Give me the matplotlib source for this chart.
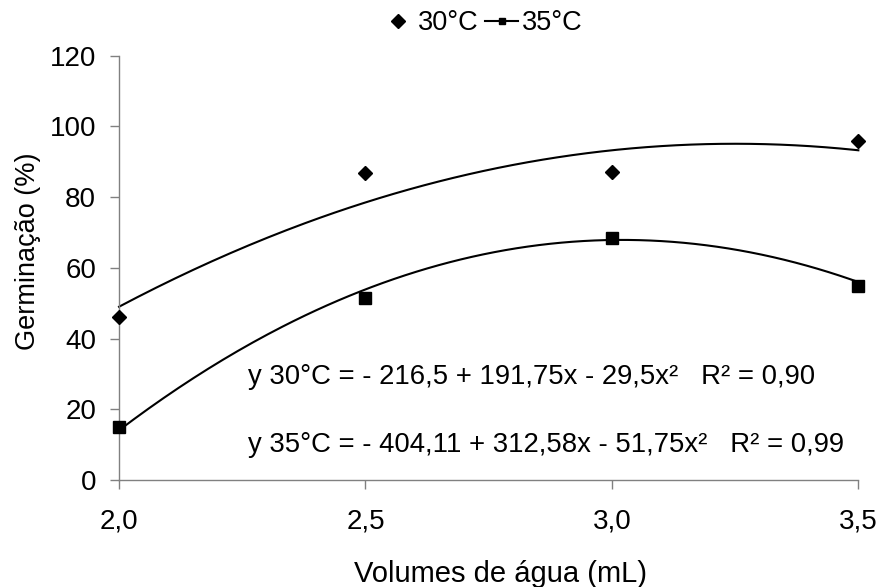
import numpy as np
import matplotlib.pyplot as plt
from matplotlib.lines import Line2D

plt.rcParams['font.family'] = ['Liberation Sans', 'DejaVu Sans']

# volumes de água (mL) e germinação observada (%)
volumes = [2.0, 2.5, 3.0, 3.5]
germ_30 = [46.2, 86.7, 87.1, 95.9]
germ_35 = [15.0, 51.6, 68.5, 55.0]

# coeficientes das regressões quadráticas (a + b*x + c*x^2)
coef_30 = [-216.5, 191.75, -29.5]
coef_35 = [-404.11, 312.58, -51.75]
eq_30 = "y 30°C = - 216,5 + 191,75x - 29,5x²   R² = 0,90"
eq_35 = "y 35°C = - 404,11 + 312,58x - 51,75x²   R² = 0,99"

xticks = [2.0, 2.5, 3.0, 3.5]
xtick_labels = ["2,0", "2,5", "3,0", "3,5"]
yticks = [0, 20, 40, 60, 80, 100, 120]

axis_grey = '#808080'

fig = plt.figure(figsize=(8.81, 5.87), dpi=100)
ax = fig.add_axes([0.1351, 0.1823, 0.8392, 0.7228])

xs = np.linspace(2.0, 3.5, 200)
for c in (coef_30, coef_35):
    ax.plot(xs, c[0] + c[1] * xs + c[2] * xs ** 2, color='black', lw=1.5, clip_on=False)

ax.plot(volumes, germ_30, linestyle='none', marker='D', markersize=7.5,
        color='black', clip_on=False, zorder=3)
ax.plot(volumes, germ_35, linestyle='none', marker='s', markersize=8.5,
        color='black', clip_on=False, zorder=3)

ax.text(2.262, 27.1, eq_30, fontsize=19.8, va='baseline', ha='left')
ax.text(2.262, 8.0, eq_35, fontsize=19.8, va='baseline', ha='left')

ax.set_xlim(2.0, 3.5)
ax.set_ylim(0, 120)
ax.set_xticks(xticks)
ax.set_xticklabels(xtick_labels)
ax.set_yticks(yticks)

for side in ('top', 'right'):
    ax.spines[side].set_visible(False)
for side in ('left', 'bottom'):
    ax.spines[side].set_color(axis_grey)
    ax.spines[side].set_linewidth(1.0)

ax.tick_params(axis='both', direction='out', length=6.5, width=1.0,
               color=axis_grey, labelsize=20, labelcolor='black')
ax.tick_params(axis='x', pad=14)
ax.tick_params(axis='y', pad=10)

ax.set_xlabel("Volumes de água (mL)", fontsize=21, va='baseline')
ax.xaxis.set_label_coords(0.516, -0.2397)
ax.set_ylabel("Germinação (%)", fontsize=19.5, va='baseline')
ax.yaxis.set_label_coords(-0.1136, 0.5385)

handles = [
    Line2D([], [], linestyle='none', marker='D', markersize=7.5, color='black'),
    Line2D([], [], linestyle='-', lw=1.5, marker='s', markersize=5, color='black'),
]
fig.legend(handles, ["30°C", "35°C"], loc='center', ncol=2,
           bbox_to_anchor=(482 / 881, 1 - 23 / 587), frameon=False,
           fontsize=19.5, handlelength=1.2, handletextpad=0.15,
           columnspacing=0.25, borderpad=0)

fig.savefig('out.png', dpi=100)
